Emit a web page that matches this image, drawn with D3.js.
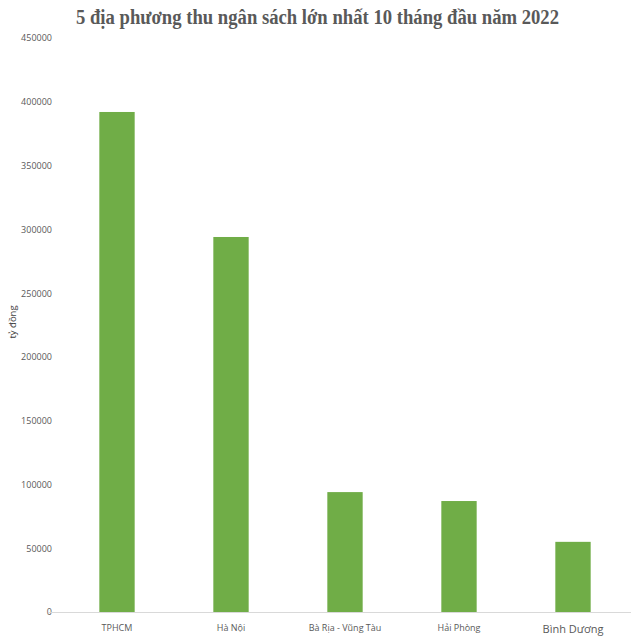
<!DOCTYPE html>
<html><head><meta charset="utf-8">
<script src="https://cdn.jsdelivr.net/npm/d3@7"></script>
<style>body{margin:0;background:#fff}svg{display:block}</style>
</head><body>
<script>
const categories = ["TPHCM", "Hà Nội", "Bà Rịa - Vũng Tàu", "Hải Phòng", "Bình Dương"];
const values = [392000, 294000, 94000, 87000, 55000];
const yTicks = [0, 50000, 100000, 150000, 200000, 250000, 300000, 350000, 400000, 450000];
const title = "5 địa phương thu ngân sách lớn nhất 10 tháng đầu năm 2022";
const yLabel = "tỷ đồng";

const W = 640, H = 636;
const svg = d3.select("body").append("svg").attr("width", W).attr("height", H);
const x = d3.scaleBand().domain(categories).range([60, 630]).paddingInner(0.69).paddingOuter(0.345);
const y = d3.scaleLinear().domain([0, 450000]).range([612, 38]);

svg.append("text").attr("x", 317.5).attr("y", 24).attr("text-anchor", "middle")
  .attr("font-family", "Liberation Serif, Times New Roman, serif").attr("font-weight", "bold")
  .attr("font-size", 20).attr("fill", "#595959")
  .attr("textLength", 483).attr("lengthAdjust", "spacingAndGlyphs").text(title);

const yAxis = svg.append("g").attr("transform", "translate(52,0)")
  .call(d3.axisLeft(y).tickValues(yTicks).tickSize(0).tickPadding(0).tickFormat(d3.format("d")));
yAxis.select(".domain").remove();
yAxis.selectAll("text").attr("font-family", "Open Sans, Noto Sans, sans-serif").attr("font-size", 9).attr("fill", "#595959");

svg.append("line").attr("x1", 48).attr("x2", 631).attr("y1", 612.5).attr("y2", 612.5)
  .attr("stroke", "#d9d9d9").attr("stroke-width", 1);

svg.selectAll("rect.bar").data(values).join("rect").attr("class", "bar")
  .attr("x", (d, i) => x(categories[i])).attr("width", x.bandwidth())
  .attr("y", d => y(d)).attr("height", d => y(0) - y(d)).attr("fill", "#70AD47");

const xAxis = svg.append("g").attr("transform", "translate(0,612)")
  .call(d3.axisBottom(x).tickSize(0).tickPadding(13));
xAxis.select(".domain").remove();
xAxis.selectAll("text").attr("font-family", "Open Sans, Noto Sans, sans-serif")
  .attr("font-size", d => d === "Bình Dương" ? 11 : 9).attr("fill", "#595959");

svg.append("text").attr("transform", "translate(16,322) rotate(-90)").attr("text-anchor", "middle")
  .attr("font-family", "Open Sans, Noto Sans, sans-serif").attr("font-size", 9.5).attr("fill", "#404040").text(yLabel);
</script>
</body></html>
